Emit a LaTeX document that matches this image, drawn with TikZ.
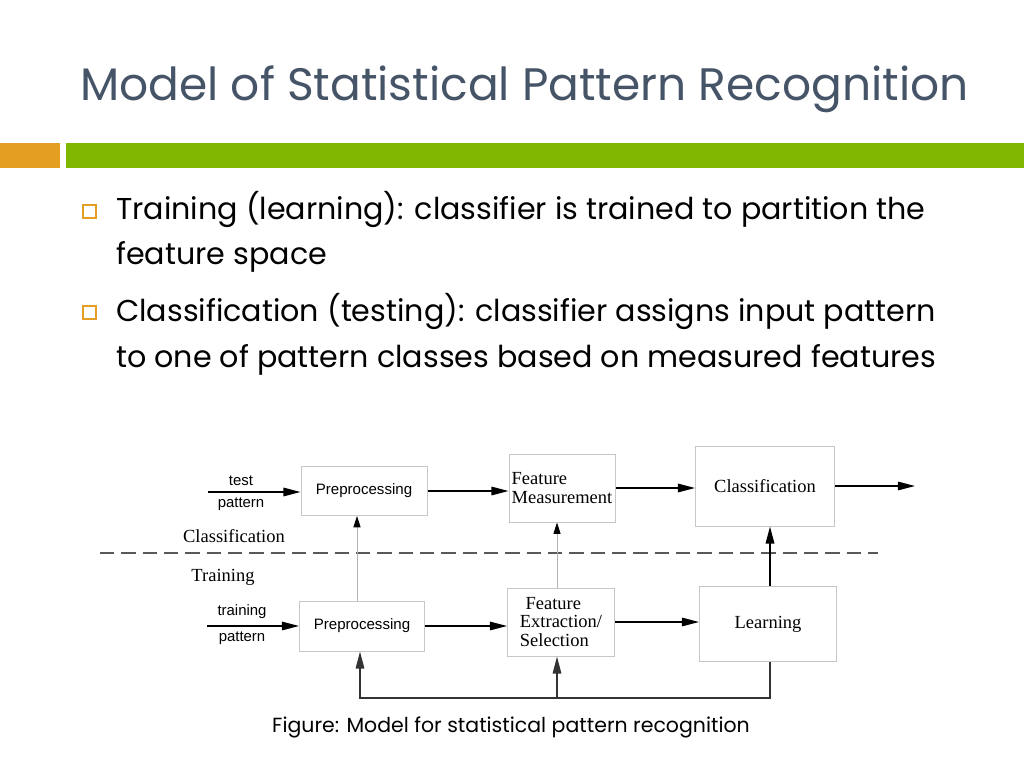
\documentclass[tikz,border=0pt]{standalone}
\usepackage{fontspec}
\setmainfont{Poppins}
\newfontfamily\figserif{Liberation Serif}
\newfontfamily\figsans{Liberation Sans}
\usepackage{xcolor}
\usetikzlibrary{arrows.meta}
\definecolor{titleslate}{RGB}{70,84,104}
\definecolor{barorange}{RGB}{228,158,34}
\definecolor{bargreen}{RGB}{128,184,0}
\def\px{0.703125pt}

\begin{document}
\begin{tikzpicture}[x=0.703125pt,y=-0.703125pt,
		box/.style={draw=black!22,line width=0.7pt,inner sep=0pt,align=left,font={\figserif\fontsize{13}{13}\selectfont}},
		sanslbl/.style={inner sep=0pt,font={\figsans\fontsize{10.5}{11}\selectfont}},
		seriflbl/.style={inner sep=0pt,font={\figserif\fontsize{13}{13}\selectfont}},
		bullettext/.style={anchor=base west,inner sep=0pt,font=\fontsize{21.2}{22}\selectfont},
		arr/.style={-{Triangle[length=12pt,width=6pt]},line width=0.9pt},
		uparr/.style={draw=black!30,line width=0.6pt,-{Triangle[length=8pt,width=5pt,color=black]}},
		fbline/.style={draw=black!80,line width=1.3pt}]
		\useasboundingbox (0,0) rectangle (1024,768);
		\fill[white] (0,0) rectangle (1024,768);
		
		\node[anchor=base west,inner sep=0pt,text=titleslate,font=\fontsize{32}{32}\selectfont] (title) at (80,101) {Model of Statistical Pattern Recognition};
		\fill[barorange] (0,143) rectangle (60,168);
		\fill[bargreen] (66,143) rectangle (1024,168);
		
		\foreach \y in {211,312}{
			\draw[barorange,line width=0.8pt] (83,\y-6) rectangle (96,\y+7);
		}
		\node[bullettext] (b1a) at (116,220) {Training (learning): classifier is trained to partition the};
		\node[bullettext] (b1b) at (116,265) {feature space};
		\node[bullettext] (b2a) at (116,322) {Classification (testing): classifier assigns input pattern};
		\node[bullettext] (b2b) at (116,367) {to one of pattern classes based on measured features};
		
		\node[box,font={\figsans\fontsize{10.6}{11}\selectfont},minimum width={126*\px},minimum height={49*\px}] (pre1) at (364,491) {Preprocessing};
		\node[box,minimum width={106*\px},minimum height={68*\px}] (meas) at (562,488) {Feature\\Measurement};
		\node[box,minimum width={139*\px},minimum height={80*\px}] (cls) at (765,486) {Classification};
		\node[box,font={\figsans\fontsize{10.6}{11}\selectfont},minimum width={125*\px},minimum height={50*\px}] (pre2) at (362,626) {Preprocessing};
		\node[box,minimum width={107*\px},minimum height={68*\px}] (fes) at (561,622) {\hspace{4pt}Feature\\Extraction/\\Selection};
		\node[box,minimum width={137*\px},minimum height={75*\px}] (learn) at (768,624) {Learning};
		
		\coordinate (testin) at (208,492);
		\coordinate (trainin) at (207,626);
		\coordinate (out) at (915,488);
		\coordinate (fb) at (557,698);
		
		\node[sanslbl] (testlbl) at (241,481) {test};
		\node[sanslbl] (testpat) at (241,504) {pattern};
		\node[sanslbl] (trainlbl) at (242,612) {training};
		\node[sanslbl] (trainpat) at (242,638) {pattern};
		\node[seriflbl] (clslbl) at (234,536) {Classification};
		\node[seriflbl] (trainlbl2) at (223,577) {Training};
		
		\draw[dashed,dash pattern=on 10pt off 5pt,draw=black!65,line width=1.4pt] (100,553) -- (878,553);
		
		\draw[arr] (testin) -- (pre1.west |- testin);
		\draw[arr] (pre1.east) -- (pre1.east -| meas.west);
		\draw[arr] (meas.east) -- (meas.east -| cls.west);
		\draw[arr] (cls.east) -- (cls.east -| out);
		\draw[arr] (trainin) -- (pre2.west);
		\draw[arr] (pre2.east) -- (pre2.east -| fes.west);
		\draw[arr] (fes.east) -- (fes.east -| learn.west);
		\draw[arr,line width=1.2pt] ([xshift={2*\px}]learn.north) -- ([xshift={2*\px}]learn.north |- cls.south);
		
		\draw[uparr] ([xshift={-5*\px}]pre2.north) -- ([xshift={-5*\px}]pre2.north |- pre1.south);
		\draw[uparr] ([xshift={-4*\px}]fes.north) -- ([xshift={-4*\px}]fes.north |- meas.south);
		
		\draw[fbline,arr] ([xshift={2*\px}]learn.south) |- (fb) -| ([xshift={-2*\px}]pre2.south);
		\draw[fbline,arr] (fb) -- (fb |- fes.south);
		
		\node[anchor=base,inner sep=0pt,font=\fontsize{14.4}{15}\selectfont] (caption) at (511,732) {Figure: Model for statistical pattern recognition};
	\end{tikzpicture}
\end{document}
